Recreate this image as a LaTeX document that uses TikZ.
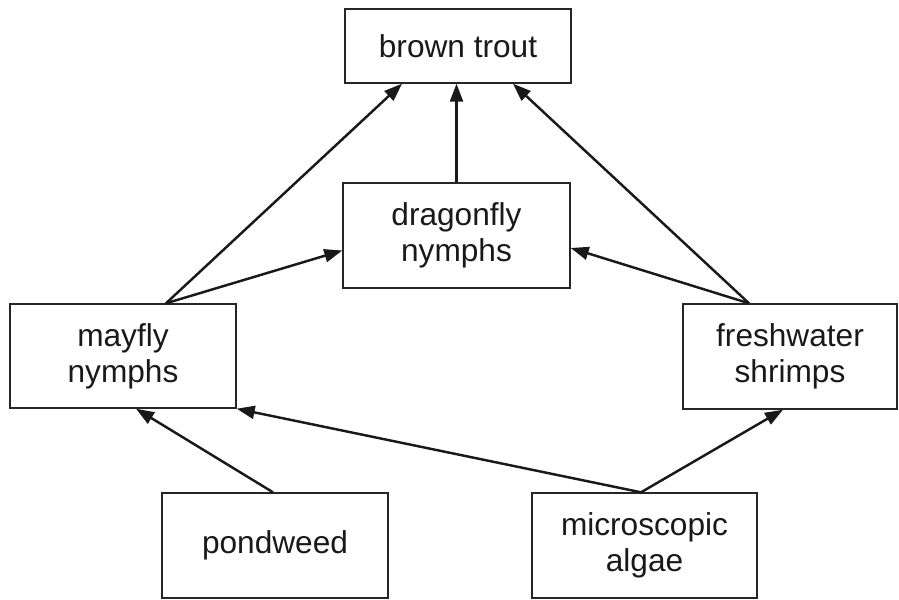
\documentclass[tikz,border=0pt]{standalone}
\usepackage{fontspec}
\setmainfont{Liberation Sans}
\usetikzlibrary{arrows.meta}
\begin{document}
\begin{tikzpicture}[x=0.02cm,y=-0.02cm,
  box/.style={draw=black!85, line width=0.8pt, inner sep=0pt, align=center,
    font=\fontsize{18}{20.5}\selectfont, text=black!90},
  link/.style={draw=black!90, line width=1.4pt, -{Triangle[length=0.36cm,width=0.26cm]}}]
\useasboundingbox (0,0) rectangle (899,599);
\node[box, minimum width=226*0.02cm, minimum height=74*0.02cm] (trout) at (458,46) {brown trout};
\node[box, minimum width=227*0.02cm, minimum height=105*0.02cm] (dragon) at (456.5,235.5) {dragonfly\\nymphs};
\node[box, minimum width=226*0.02cm, minimum height=104*0.02cm] (mayfly) at (123,356) {mayfly\\nymphs};
\node[box, minimum width=214*0.02cm, minimum height=105*0.02cm] (shrimps) at (790,356.5) {freshwater\\shrimps};
\node[box, minimum width=226*0.02cm, minimum height=105*0.02cm] (pond) at (275,545.5) {pondweed};
\node[box, minimum width=225*0.02cm, minimum height=105*0.02cm] (algae) at (644.5,545.5) {microscopic\\algae};
% connectors
\draw[link] ([xshift=0.86cm]mayfly.north) -- ([xshift=-1.12cm]trout.south);
\draw[link] ([xshift=0.86cm]mayfly.north) -- ([yshift=-0.3cm]dragon.west);
\draw[link] (dragon.north) -- (dragon.north |- trout.south);
\draw[link] ([xshift=-0.82cm]shrimps.north) -- ([xshift=1.1cm]trout.south);
\draw[link] ([xshift=-0.82cm]shrimps.north) -- ([yshift=-0.25cm]dragon.east);
\draw[link] ([xshift=-0.04cm]pond.north) -- ([xshift=0.26cm]mayfly.south);
\draw[link] ([xshift=-0.07cm]algae.north) -- (mayfly.south east);
\draw[link] ([xshift=-0.07cm]algae.north) -- ([xshift=-0.14cm]shrimps.south);
\end{tikzpicture}
\end{document}
